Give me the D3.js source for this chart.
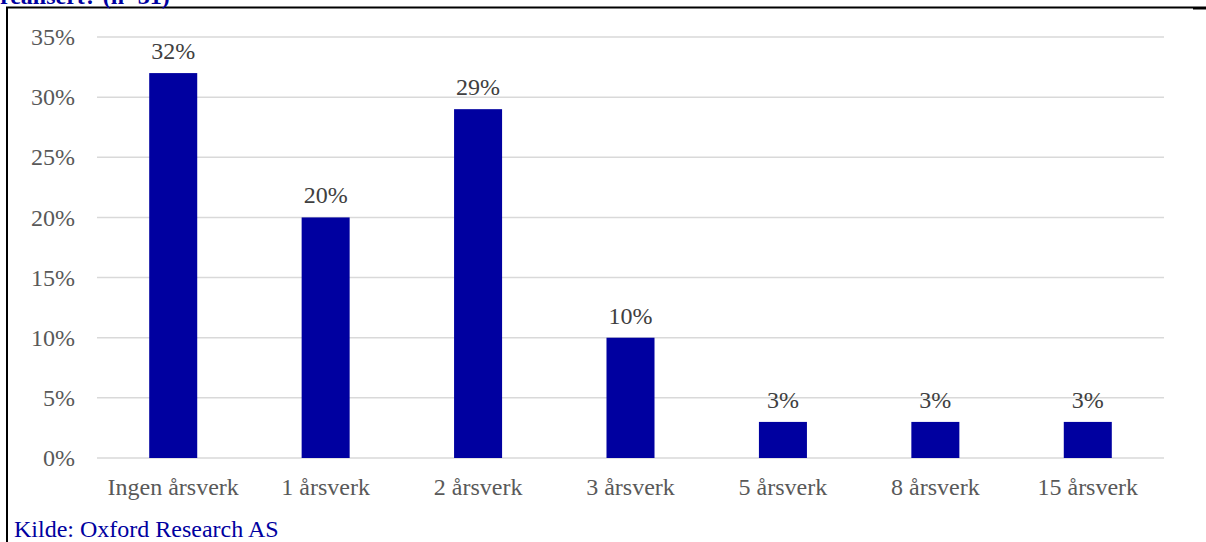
<!DOCTYPE html>
<html>
<head>
<meta charset="utf-8">
<script src="https://cdn.jsdelivr.net/npm/d3@7"></script>
<style>
  html, body { margin: 0; padding: 0; background: #fff; }
  svg { display: block; }
</style>
</head>
<body>
<svg id="chart" width="1206" height="542"></svg>
<script>
// Share of respondents by number of full-time equivalents (årsverk)
const categories = ["Ingen årsverk", "1 årsverk", "2 årsverk", "3 årsverk", "5 årsverk", "8 årsverk", "15 årsverk"];
const values = [32, 20, 29, 10, 3, 3, 3];
const yTicks = [0, 5, 10, 15, 20, 25, 30, 35];
const titleText = "realisert? (n=31)";
const sourceText = "Kilde: Oxford Research AS";

const svg = d3.select("#chart");
const font = "'Liberation Serif', 'Times New Roman', serif";
const blue = "#0000a0";
const fs = 24;

// frame lines
svg.append("line").attr("x1", 6).attr("x2", 1193).attr("y1", 7.5).attr("y2", 7.5)
  .attr("stroke", "#000").attr("stroke-width", 2);
svg.append("line").attr("x1", 1193).attr("x2", 1206).attr("y1", 8).attr("y2", 8)
  .attr("stroke", "#000").attr("stroke-width", 3);
svg.append("line").attr("x1", 7).attr("x2", 7).attr("y1", 7).attr("y2", 542)
  .attr("stroke", "#000").attr("stroke-width", 2);

// heading (only its lower edge shows above the frame)
svg.append("text").attr("x", 0).attr("y", 4)
  .attr("font-family", font).attr("font-weight", "bold").attr("font-size", fs)
  .attr("fill", blue).text(titleText);

const margin = { left: 97, right: 1164, top: 37, bottom: 458 };

const x = d3.scaleBand().domain(categories)
  .range([margin.left, margin.right]).paddingInner(0.685).paddingOuter(0.3425);
const y = d3.scaleLinear().domain([0, 35]).range([margin.bottom, margin.top]);

// gridlines
svg.append("g").selectAll("line").data(yTicks).join("line")
  .attr("x1", margin.left).attr("x2", margin.right)
  .attr("y1", d => y(d)).attr("y2", d => y(d))
  .attr("stroke", "#d9d9d9").attr("stroke-width", 1.5);

// y axis labels
const yAxis = svg.append("g").attr("transform", `translate(${margin.left - 22},0)`)
  .call(d3.axisLeft(y).tickValues(yTicks).tickFormat(d => d + "%").tickSize(0).tickPadding(0));
yAxis.select(".domain").remove();
yAxis.selectAll("text").attr("font-family", font).attr("font-size", fs).attr("fill", "#595959");

// bars
svg.append("g").selectAll("rect").data(values).join("rect")
  .attr("x", (d, i) => x(categories[i]))
  .attr("width", x.bandwidth())
  .attr("y", d => y(d))
  .attr("height", d => y(0) - y(d))
  .attr("fill", blue);

// value labels
svg.append("g").selectAll("text").data(values).join("text")
  .attr("x", (d, i) => x(categories[i]) + x.bandwidth() / 2)
  .attr("y", d => y(d) - 14)
  .attr("text-anchor", "middle")
  .attr("font-family", font).attr("font-size", fs).attr("fill", "#404040")
  .text(d => d + "%");

// x axis labels
const xAxis = svg.append("g").attr("transform", `translate(0,${margin.bottom})`)
  .call(d3.axisBottom(x).tickSize(0).tickPadding(20));
xAxis.select(".domain").remove();
xAxis.selectAll("text").attr("font-family", font).attr("font-size", fs).attr("fill", "#595959");

// source line
svg.append("text").attr("x", 14).attr("y", 537)
  .attr("font-family", font).attr("font-size", fs).attr("fill", blue).text(sourceText);
</script>
</body>
</html>
